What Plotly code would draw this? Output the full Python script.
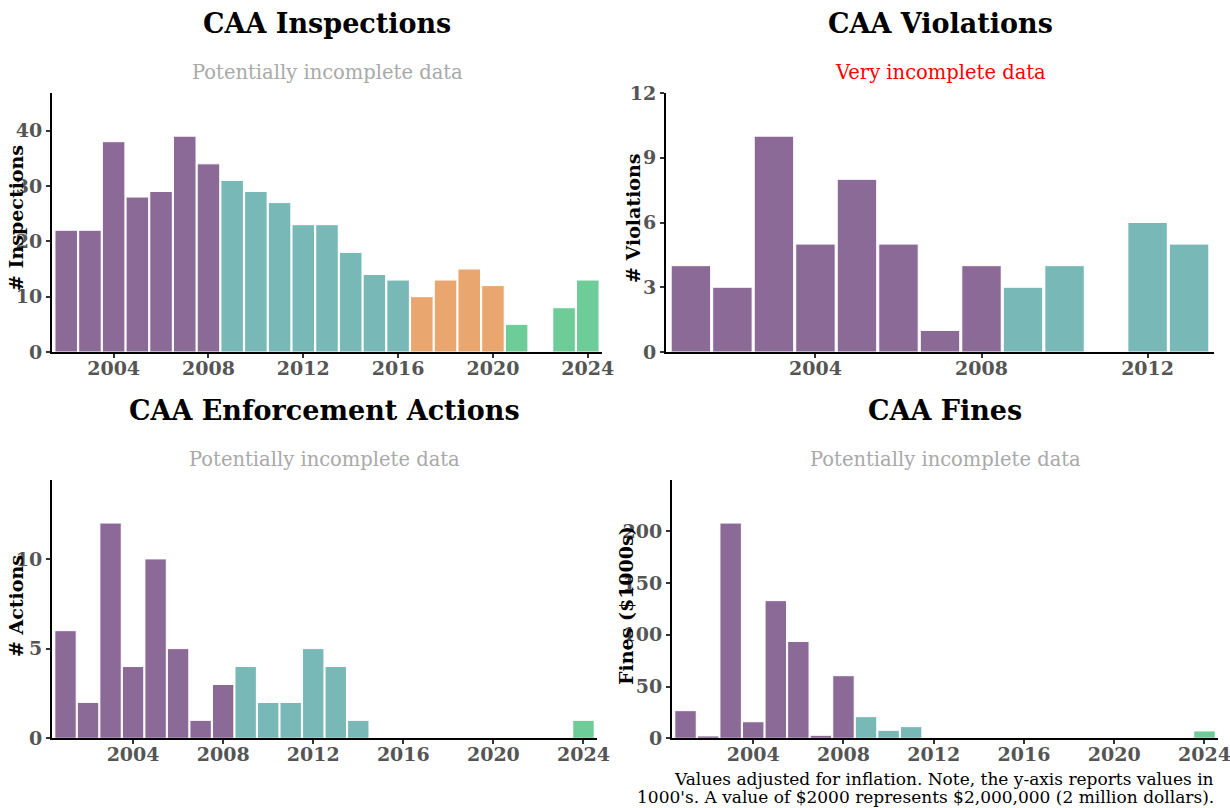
import plotly.graph_objects as go

# ---------------- data ----------------
insp_years = list(range(2002, 2025))
inspections = [22, 22, 38, 28, 29, 39, 34, 31, 29, 27, 23, 23, 18, 14, 13,
               10, 13, 15, 12, 5, 0, 8, 13]

viol_years = list(range(2001, 2014))
violations = [4, 3, 10, 5, 8, 5, 1, 4, 3, 4, 0, 6, 5]

enf_years = list(range(2001, 2025))
enforcements = [6, 2, 12, 4, 10, 5, 1, 3, 4, 2, 2, 5, 4, 1,
                0, 0, 0, 0, 0, 0, 0, 0, 0, 1]

fine_years = list(range(2001, 2025))
fines = [26.7, 2.3, 208, 16, 133, 93.6, 2.9, 60.5, 20.9, 7.7, 11.3,
         0, 0, 0, 0, 0, 0, 0, 0, 0, 0, 0, 0, 7.1]

titles = ["CAA Inspections", "CAA Violations", "CAA Enforcement Actions", "CAA Fines"]
subtitles = ["Potentially incomplete data", "Very incomplete data",
             "Potentially incomplete data", "Potentially incomplete data"]
ylabels = ["# Inspections", "# Violations", "# Actions", "Fines ($1000s)"]
footnote_lines = ["Values adjusted for inflation. Note, the y-axis reports values in",
                  "1000's. A value of $2000 represents $2,000,000 (2 million dollars)."]

# ---------------- style ----------------
PURPLE = "#8C6A97"
TEAL = "#78B9B8"
ORANGE = "#EAA66F"
GREEN = "#6DCC98"
FONT = "DejaVu Serif"
W, H = 1230, 808


def admin_color(y):
    if y <= 2008:
        return PURPLE
    if y <= 2016:
        return TEAL
    if y <= 2020:
        return ORANGE
    return GREEN


def px_x(p):
    return p / W


def px_y(p):
    return 1 - p / H


# pixel boxes (left, right, top, bottom)
boxes = [(52, 602, 93, 352), (666, 1214, 93, 352),
         (52, 597, 480, 738.3), (672, 1218, 480, 738.3)]

datasets = [(insp_years, inspections, 10), (viol_years, violations, 3),
            (enf_years, enforcements, 5), (fine_years, fines, 50)]

fig = go.Figure()
annotations = []
for i, ((yrs, vals, dt), box) in enumerate(zip(datasets, boxes)):
    k = "" if i == 0 else str(i + 1)
    fig.add_trace(go.Bar(
        x=yrs, y=vals, width=0.95,
        marker=dict(color=[admin_color(y) for y in yrs],
                    line=dict(color="white", width=1)),
        xaxis="x" + k, yaxis="y" + k, showlegend=False,
        hoverinfo="x+y"))
    l, r, t, b = box
    fig.update_layout({
        "xaxis" + k: dict(
            domain=[px_x(l), px_x(r)], anchor="y" + k, automargin=False,
            range=[min(yrs) - 0.6, max(yrs) + 0.6],
            tick0=2004, dtick=4, showgrid=False, zeroline=False,
            showline=True, linecolor="black", linewidth=2,
            ticks="outside", ticklen=4, tickwidth=1.5, tickcolor="#333",
            ticklabelstandoff=-6, ticklabeloverflow="allow",
            tickfont=dict(family=FONT, size=19, color="#555555", weight="bold")),
        "yaxis" + k: dict(
            domain=[px_y(b), px_y(t)], anchor="x" + k, automargin=False,
            range=[0, max(vals) * 1.2], dtick=dt, tick0=0,
            showgrid=False, zeroline=False, ticklabeloverflow="allow",
            showline=True, linecolor="black", linewidth=2,
            ticks="outside", ticklen=4, tickwidth=1.5, tickcolor="#333",
            tickfont=dict(family=FONT, size=19, color="#555555", weight="bold")),
    })
    cx = (l + r) / 2
    top_title_y = 23 if i < 2 else 410
    sub_y = 73 if i < 2 else 460
    annotations.append(dict(
        text=titles[i], x=px_x(cx), y=px_y(top_title_y), xref="paper", yref="paper",
        xanchor="center", yanchor="middle", showarrow=False,
        font=dict(family=FONT, size=27, color="black", weight="bold")))
    annotations.append(dict(
        text=subtitles[i], x=px_x(cx), y=px_y(sub_y), xref="paper", yref="paper",
        xanchor="center", yanchor="middle", showarrow=False,
        font=dict(family=FONT, size=19.5, color="red" if i == 1 else "#A9A9A9")))

# y-axis titles
ylab_x = [16, 633, 16, 626]
ylab_y = [218, 218, 606, 606]
for i in range(4):
    annotations.append(dict(
        text=ylabels[i], x=px_x(ylab_x[i]), y=px_y(ylab_y[i]), xref="paper", yref="paper",
        xanchor="center", yanchor="middle", textangle=-90, showarrow=False,
        font=dict(family=FONT, size=19, color="black", weight="bold")))

# footnote
for j, (line, yy) in enumerate(zip(footnote_lines, [779, 797])):
    annotations.append(dict(
        text=line, x=px_x(1216), y=px_y(yy), xref="paper", yref="paper",
        xanchor="right", yanchor="middle", showarrow=False,
        font=dict(family=FONT, size=17, color="black")))

fig.update_layout(
    width=W, height=H, margin=dict(l=0, r=0, t=0, b=0, autoexpand=False),
    paper_bgcolor="white", plot_bgcolor="white",
    annotations=annotations, showlegend=False)

# pin the figure to the page's top-left corner so it fills the window exactly
pin_js = ("document.documentElement.style.margin='0';"
          "document.body.style.margin='0';document.body.style.overflow='hidden';"
          "var gd=document.getElementById('{plot_id}');"
          "gd.style.position='fixed';gd.style.left='0px';gd.style.top='0px';")

fig.write_html("out.html", post_script=pin_js, config={"displayModeBar": False})
